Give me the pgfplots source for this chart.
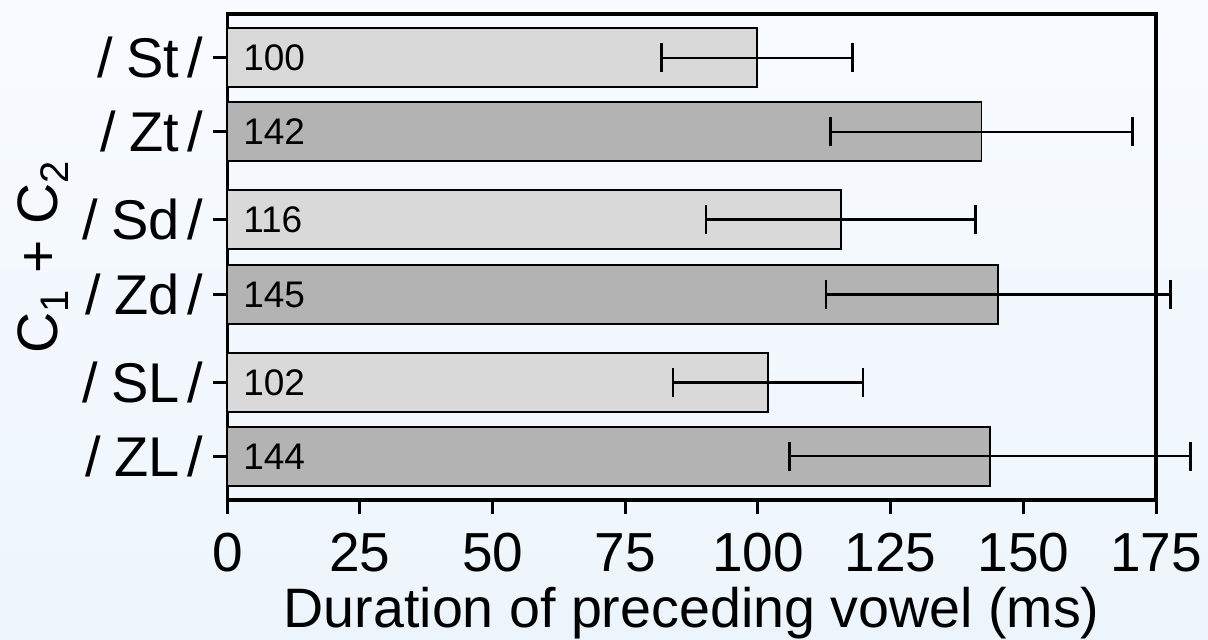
\documentclass[border=0pt]{standalone}
\usepackage{fontspec}
\setmainfont{Liberation Sans}
\usepackage{pgfplots}
\pgfplotsset{compat=1.18}
\usepackage{pgfplotstable}
\definecolor{bgtop}{HTML}{F8FBFF}
\definecolor{bgbot}{HTML}{EDF5FC}
\definecolor{barlight}{HTML}{D9D9D9}
\definecolor{bardark}{HTML}{B3B3B3}

% y = vertical layout position of each bar, x = duration, err = error half-width, v = label
\pgfplotstableread{
y      x      err    v
-57.8  99.8   18.0   100
-219.5 115.6  25.4   116
-382.5 101.9  17.9   102
}\lighttab
\pgfplotstableread{
y      x      err    v
-131.8 142.1  28.4   142
-294.5 145.3  32.5   145
-456.3 143.7  37.8   144
}\darktab

\newcommand{\cat}[1]{/\hspace{0.24em}#1\hspace{0.14em}/}

\begin{document}
\begin{tikzpicture}
\shade[top color=bgtop, bottom color=bgbot] (-113.65pt,-69.5pt) rectangle (490.35pt,250pt);
\begin{axis}[
  at={(0,0)}, anchor=south west,
  scale only axis, width=464.35pt, height=243pt,
  xmin=0, xmax=175, ymin=-500, ymax=-14,
  clip=false,
  xtick={0,25,...,175},
  ytick={-456.3,-382.5,-294.5,-219.5,-131.8,-57.8},
  yticklabels={\cat{ZL}, \cat{SL}, \cat{Zd}, \cat{Sd}, \cat{Zt}, \cat{St}},
  xtick pos=bottom, ytick pos=left,
  tick align=outside, major tick length=7pt,
  tick style={line width=1.5pt, black},
  axis line style={line width=1.6pt, black},
  /pgf/number format/assume math mode=true,
  xticklabel style={font=\fontsize{27.5}{30}\selectfont, inner sep=0pt, anchor=north, yshift=-9.5pt},
  yticklabel style={font=\fontsize{28}{30}\selectfont, inner sep=0pt, anchor=east, xshift=-5pt},
  xlabel={Duration of preceding vowel (ms)},
  xlabel style={font=\fontsize{27.8}{30}\selectfont, at={(axis description cs:0.5,0)}, anchor=base, yshift=-63.5pt, inner sep=0pt},
  ylabel={C\textsubscript{1} + C\textsubscript{2}},
  ylabel style={font=\fontsize{28.5}{30}\selectfont, at={(axis description cs:-0.1823,0.5)}, anchor=base, inner sep=0pt},
]
\addplot[xbar, bar shift=0pt, bar width=59, fill=barlight, draw=black, line width=0.9pt,
  error bars/.cd, x dir=both, x explicit,
  error bar style={line width=1.1pt, black},
  error mark options={rotate=90, line width=1.4pt, mark size=7.25pt, black}]
  table[x=x, y=y, x error=err] {\lighttab};
\addplot[xbar, bar shift=0pt, bar width=59, fill=bardark, draw=black, line width=0.9pt,
  error bars/.cd, x dir=both, x explicit,
  error bar style={line width=1.1pt, black},
  error mark options={rotate=90, line width=1.4pt, mark size=7.25pt, black}]
  table[x=x, y=y, x error=err] {\darktab};
\addplot[draw=none, mark=none, nodes near coords, point meta=explicit symbolic,
  nodes near coords style={anchor=west, inner sep=0pt, xshift=7.8pt, font=\fontsize{18.5}{20}\selectfont, text=black}]
  table[x expr=0, y=y, meta=v] {\lighttab};
\addplot[draw=none, mark=none, nodes near coords, point meta=explicit symbolic,
  nodes near coords style={anchor=west, inner sep=0pt, xshift=7.8pt, font=\fontsize{18.5}{20}\selectfont, text=black}]
  table[x expr=0, y=y, meta=v] {\darktab};
\end{axis}
\end{tikzpicture}
\end{document}
